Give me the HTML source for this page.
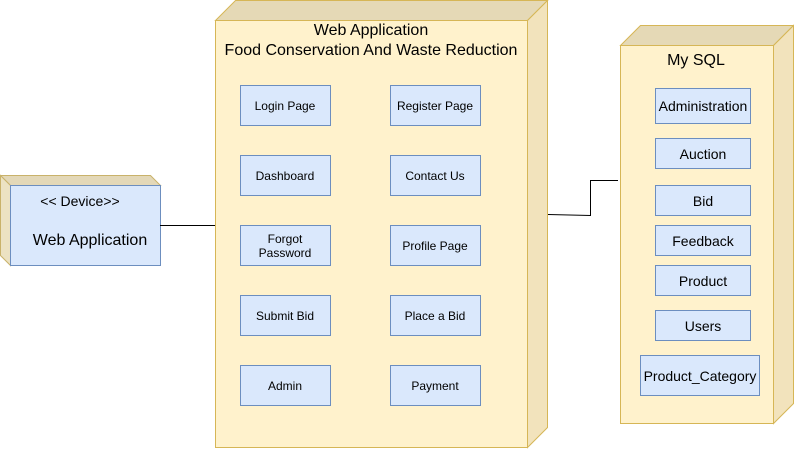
<!DOCTYPE html>
<html><head><style>
body{margin:0;background:#fff;}
svg text{font-family:"Liberation Sans",sans-serif;fill:#000;}
</style></head><body>
<svg width="794" height="449" viewBox="0 0 794 449" xmlns="http://www.w3.org/2000/svg">
<g stroke="#d6b656" stroke-width="1">
<!-- device -->
<polygon points="0.5,175.5 150.5,175.5 160.5,185.5 10.5,185.5" fill="#e3d8b8" stroke="#c9b26a"/>
<polygon points="0.5,175.5 10.5,185.5 10.5,265.5 0.5,255.5" fill="#ece2c2" stroke="#c9b26a"/>
<!-- web app -->
<polygon points="215.5,20.5 235.5,0.5 547.5,0.5 527.5,20.5" fill="#e5d9b6"/>
<polygon points="527.5,20.5 547.5,0.5 547.5,427.5 527.5,447.5" fill="#f2e3bc"/>
<rect x="215.5" y="20.5" width="312" height="427" fill="#fff2cc"/>
<!-- mysql -->
<polygon points="620.5,45.5 640.5,25.5 793.5,25.5 773.5,45.5" fill="#e5d9b6"/>
<polygon points="773.5,45.5 793.5,25.5 793.5,403.5 773.5,423.5" fill="#f2e3bc"/>
<rect x="620.5" y="45.5" width="153" height="378" fill="#fff2cc"/>
</g>
<rect x="10.5" y="185.5" width="150" height="80" fill="#dae8fc" stroke="#6c8ebf"/>
<g fill="#dae8fc" stroke="#6c8ebf">
<rect x="240.5" y="85.5" width="90" height="40"/><rect x="390.5" y="85.5" width="90" height="40"/>
<rect x="240.5" y="155.5" width="90" height="40"/><rect x="390.5" y="155.5" width="90" height="40"/>
<rect x="240.5" y="225.5" width="90" height="40"/><rect x="390.5" y="225.5" width="90" height="40"/>
<rect x="240.5" y="295.5" width="90" height="40"/><rect x="390.5" y="295.5" width="90" height="40"/>
<rect x="240.5" y="365.5" width="90" height="40"/><rect x="390.5" y="365.5" width="90" height="40"/>
<rect x="655.5" y="88.5" width="95" height="35"/>
<rect x="655.5" y="138.5" width="95" height="30"/>
<rect x="655.5" y="185.5" width="95" height="30"/>
<rect x="655.5" y="225.5" width="95" height="30"/>
<rect x="655.5" y="265.5" width="95" height="30"/>
<rect x="655.5" y="310.5" width="95" height="30"/>
<rect x="640.5" y="355.5" width="119" height="40"/>
</g>
<g stroke="#000" fill="none">
<line x1="160" y1="225.5" x2="215" y2="225.5"/>
<polyline points="548,214.5 590.5,215.5 590.5,180.5 618,180.5"/>
</g>
<g text-anchor="middle">
<text x="80" y="206" font-size="14">&lt;&lt; Device&gt;&gt;</text>
<text x="90" y="245" font-size="16">Web Application</text>
<text x="371" y="35" font-size="16">Web Application</text>
<text x="371" y="55" font-size="16">Food Conservation And Waste Reduction</text>
<text x="696" y="65" font-size="16">My SQL</text>
<g font-size="12">
<text x="285" y="110">Login Page</text><text x="435" y="110">Register Page</text>
<text x="285" y="180">Dashboard</text><text x="435" y="180">Contact Us</text>
<text x="285" y="243">Forgot</text><text x="285" y="257">Password</text><text x="435" y="250">Profile Page</text>
<text x="285" y="320">Submit Bid</text><text x="435" y="320">Place a Bid</text>
<text x="285" y="390">Admin</text><text x="435" y="390">Payment</text>
</g>
<g font-size="14">
<text x="703" y="111">Administration</text>
<text x="703" y="159">Auction</text>
<text x="703" y="206">Bid</text>
<text x="703" y="246">Feedback</text>
<text x="703" y="286">Product</text>
<text x="703" y="331">Users</text>
<text x="700" y="381">Product_Category</text>
</g>
</g>
</svg>
</body></html>
